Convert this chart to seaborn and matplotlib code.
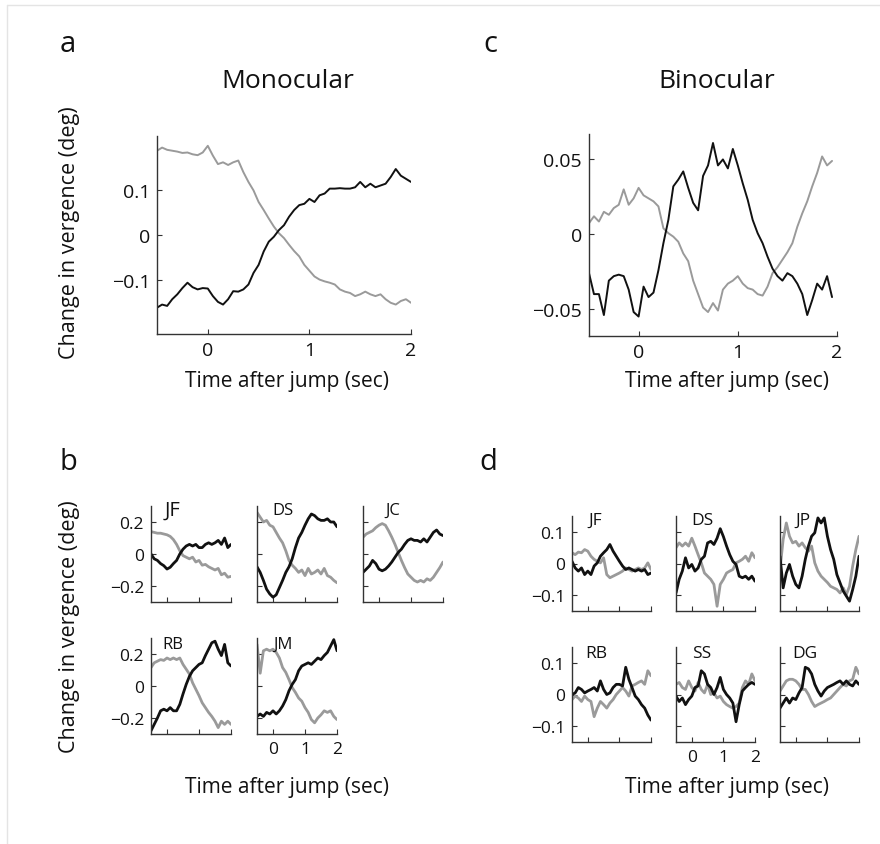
import seaborn as sns
import matplotlib.pyplot as plt
import numpy as np
from matplotlib.lines import Line2D

sns.set_style("ticks")
plt.rcParams['font.family'] = ['Open Sans', 'DejaVu Sans']

# ---------------- data ----------------
# panels a and c: 0.05 s steps
t_a = np.round(np.arange(-0.5, 2.0001, 0.05), 2)
mono_gray = [0.189, 0.196, 0.191, 0.189, 0.187, 0.184, 0.185, 0.181, 0.179, 0.185,
             0.200, 0.178, 0.159, 0.163, 0.157, 0.163, 0.167, 0.141, 0.119, 0.100,
             0.074, 0.056, 0.037, 0.019, 0.004, -0.007, -0.022, -0.036, -0.048, -0.067,
             -0.080, -0.093, -0.100, -0.104, -0.107, -0.111, -0.122, -0.127, -0.130, -0.137,
             -0.133, -0.127, -0.133, -0.137, -0.133, -0.144, -0.152, -0.156, -0.148, -0.144,
             -0.152]
mono_black = [-0.163, -0.156, -0.159, -0.144, -0.133, -0.119, -0.107, -0.117, -0.122, -0.119,
              -0.120, -0.137, -0.150, -0.156, -0.144, -0.126, -0.127, -0.122, -0.111, -0.085,
              -0.067, -0.037, -0.015, -0.004, 0.011, 0.022, 0.041, 0.056, 0.067, 0.070,
              0.081, 0.074, 0.089, 0.093, 0.104, 0.104, 0.105, 0.104, 0.104, 0.107,
              0.119, 0.107, 0.115, 0.107, 0.111, 0.115, 0.130, 0.148, 0.133, 0.126,
              0.119]

t_c = np.round(np.arange(-0.5, 1.9501, 0.05), 2)
bino_gray = [0.0074, 0.012, 0.0085, 0.015, 0.013, 0.0175, 0.0197, 0.030, 0.0197, 0.024,
             0.031, 0.026, 0.024, 0.022, 0.0186, 0.004, 0.0007, -0.0016, -0.005, -0.0128,
             -0.018, -0.031, -0.040, -0.049, -0.052, -0.046, -0.051, -0.037, -0.033, -0.031,
             -0.028, -0.033, -0.036, -0.037, -0.040, -0.041, -0.035, -0.026, -0.022, -0.017,
             -0.012, -0.006, 0.005, 0.014, 0.022, 0.032, 0.041, 0.052, 0.046, 0.049]
bino_black = [-0.026, -0.040, -0.040, -0.054, -0.031, -0.028, -0.027, -0.028, -0.037, -0.052,
              -0.055, -0.035, -0.042, -0.039, -0.024, -0.006, 0.0096, 0.032, 0.0365, 0.042,
              0.031, 0.021, 0.016, 0.039, 0.046, 0.061, 0.046, 0.050, 0.044, 0.057,
              0.046, 0.034, 0.023, 0.0096, 0.0007, -0.006, -0.015, -0.023, -0.028, -0.031,
              -0.026, -0.028, -0.033, -0.040, -0.054, -0.044, -0.033, -0.037, -0.028, -0.042]

# panels b and d: 0.1 s steps
t_s = np.round(np.arange(-0.5, 2.0001, 0.1), 2)

mono_subjects = ["JF", "DS", "JC", "RB", "JM"]
mono_sub_gray = {
    "JF": [0.14, 0.135, 0.13, 0.13, 0.125, 0.12, 0.11, 0.09, 0.06, 0.02, -0.01, -0.02, -0.03,
           -0.02, -0.05, -0.04, -0.07, -0.065, -0.08, -0.09, -0.10, -0.09, -0.13, -0.12, -0.145, -0.14],
    "DS": [0.26, 0.23, 0.20, 0.21, 0.18, 0.17, 0.135, 0.10, 0.07, 0.02, -0.04, -0.07, -0.09,
           -0.115, -0.10, -0.135, -0.09, -0.125, -0.115, -0.10, -0.125, -0.09, -0.135, -0.145, -0.165, -0.18],
    "JC": [0.105, 0.125, 0.135, 0.145, 0.165, 0.18, 0.19, 0.18, 0.145, 0.105, 0.06, 0.01, -0.04,
           -0.085, -0.125, -0.145, -0.165, -0.175, -0.165, -0.175, -0.155, -0.165, -0.145, -0.115, -0.085, -0.05],
    "RB": [0.115, 0.145, 0.155, 0.165, 0.16, 0.175, 0.165, 0.175, 0.165, 0.175, 0.135, 0.105, 0.075,
           0.02, -0.02, -0.06, -0.105, -0.135, -0.165, -0.19, -0.22, -0.26, -0.22, -0.24, -0.22, -0.24],
    "JM": [0.26, 0.08, 0.22, 0.23, 0.22, 0.23, 0.21, 0.175, 0.115, 0.085, 0.04, -0.01, -0.04,
           -0.075, -0.095, -0.135, -0.165, -0.21, -0.23, -0.20, -0.18, -0.155, -0.165, -0.155, -0.19, -0.21],
}
mono_sub_black = {
    "JF": [0.0, -0.03, -0.04, -0.06, -0.073, -0.094, -0.083, -0.06, -0.04, 0.0, 0.03, 0.05, 0.06,
           0.05, 0.06, 0.04, 0.04, 0.06, 0.07, 0.06, 0.07, 0.085, 0.06, 0.10, 0.04, 0.06],
    "DS": [-0.08, -0.115, -0.165, -0.22, -0.25, -0.27, -0.255, -0.21, -0.165, -0.115, -0.08, -0.03, 0.04,
           0.10, 0.135, 0.18, 0.22, 0.25, 0.24, 0.22, 0.21, 0.21, 0.22, 0.20, 0.20, 0.17],
    "JC": [-0.115, -0.095, -0.075, -0.04, -0.06, -0.095, -0.105, -0.095, -0.075, -0.05, -0.02, 0.01, 0.03,
           0.06, 0.085, 0.095, 0.085, 0.085, 0.075, 0.095, 0.075, 0.105, 0.135, 0.15, 0.125, 0.115],
    "RB": [-0.28, -0.24, -0.20, -0.155, -0.145, -0.155, -0.135, -0.155, -0.155, -0.115, -0.05, 0.01, 0.06,
           0.095, 0.115, 0.135, 0.145, 0.19, 0.23, 0.27, 0.28, 0.23, 0.19, 0.26, 0.145, 0.125],
    "JM": [-0.19, -0.175, -0.19, -0.165, -0.175, -0.155, -0.175, -0.155, -0.125, -0.085, -0.03, 0.01, 0.04,
           0.095, 0.125, 0.135, 0.145, 0.135, 0.155, 0.175, 0.165, 0.19, 0.21, 0.25, 0.29, 0.22],
}

bino_subjects = ["JF", "DS", "JP", "RB", "SS", "DG"]
bino_sub_gray = {
    "JF": [0.034, 0.028, 0.036, 0.034, 0.044, 0.039, 0.023, 0.013, 0.007, 0.002, 0.018, -0.035, -0.045,
           -0.04, -0.035, -0.03, -0.024, -0.014, -0.019, -0.024, -0.019, -0.014, -0.019, -0.014, 0.002, -0.019],
    "DS": [0.05, 0.065, 0.055, 0.065, 0.055, 0.08, 0.055, 0.028, 0.002, -0.03, -0.04, -0.05, -0.066,
           -0.135, -0.066, -0.05, -0.03, -0.024, -0.019, 0.002, 0.007, 0.013, 0.023, 0.007, 0.034, 0.018],
    "JP": [-0.019, 0.076, 0.128, 0.086, 0.065, 0.07, 0.055, 0.065, 0.05, 0.039, 0.055, 0.002, -0.024,
           -0.04, -0.05, -0.06, -0.072, -0.077, -0.082, -0.093, -0.077, -0.098, -0.072, -0.008, 0.044, 0.086],
    "RB": [-0.016, -0.005, -0.011, -0.022, -0.005, -0.016, -0.022, -0.07, -0.043, -0.022, -0.032, -0.043, -0.027,
           -0.016, 0.0, 0.011, 0.022, 0.011, -0.005, 0.027, 0.032, 0.038, 0.043, 0.032, 0.075, 0.059],
    "SS": [0.032, 0.038, 0.022, 0.016, 0.043, 0.022, 0.011, 0.038, 0.016, 0.005, 0.032, 0.0, 0.005,
           -0.011, -0.005, -0.022, -0.032, -0.038, -0.043, -0.038, -0.027, 0.022, 0.043, 0.032, 0.065, 0.043],
    "DG": [0.011, 0.027, 0.043, 0.048, 0.048, 0.043, 0.032, 0.016, 0.016, 0.0, -0.022, -0.038, -0.032,
           -0.027, -0.022, -0.016, -0.011, 0.0, 0.011, 0.022, 0.032, 0.027, 0.043, 0.048, 0.086, 0.065],
}
bino_sub_black = {
    "JF": [0.007, -0.014, -0.024, -0.014, -0.035, -0.024, -0.035, -0.008, 0.002, 0.023, 0.034, 0.044, 0.06,
           0.039, 0.023, 0.007, -0.008, -0.019, -0.014, -0.019, -0.024, -0.019, -0.024, -0.019, -0.035, -0.03],
    "DS": [-0.093, -0.05, -0.024, 0.018, -0.014, -0.003, -0.024, -0.014, 0.013, 0.023, 0.065, 0.07, 0.06,
           0.08, 0.11, 0.085, 0.055, 0.028, 0.007, -0.003, -0.04, -0.045, -0.04, -0.05, -0.04, -0.056],
    "JP": [0.023, -0.077, -0.03, -0.003, -0.04, -0.066, -0.077, -0.04, 0.013, 0.055, 0.086, 0.097, 0.144,
           0.128, 0.144, 0.086, 0.044, 0.013, -0.035, -0.061, -0.087, -0.103, -0.119, -0.082, -0.04, 0.023],
    "RB": [0.0, 0.005, 0.022, 0.016, 0.005, 0.011, 0.016, 0.022, 0.011, 0.043, 0.016, 0.0, 0.005,
           0.022, 0.032, 0.032, 0.027, 0.086, 0.048, 0.022, -0.005, -0.016, -0.032, -0.043, -0.065, -0.081],
    "SS": [-0.005, -0.022, -0.011, -0.032, -0.016, -0.005, 0.022, 0.027, 0.075, 0.065, 0.032, 0.022, 0.0,
           0.022, 0.054, 0.016, 0.0, -0.011, -0.027, -0.086, -0.032, 0.011, 0.022, 0.032, 0.038, 0.032],
    "DG": [-0.043, -0.027, -0.011, -0.027, -0.011, -0.016, 0.005, 0.022, 0.086, 0.081, 0.065, 0.032, 0.011,
           -0.005, 0.011, 0.022, 0.027, 0.032, 0.038, 0.043, 0.032, 0.043, 0.032, 0.027, 0.043, 0.032],
}

GRAY = "#9a9a9a"
BLACK = "#111111"
SPINE = "#333333"

W, H = 880, 845
fig = plt.figure(figsize=(W / 100, H / 100), dpi=100)


def px_axes(left, top, width, height):
    # axes placed by pixel box (y measured from the top)
    return fig.add_axes([left / W, 1 - (top + height) / H, width / W, height / H])


def style_axes(ax, ylim, yticks, yticklabels, show_y, show_x, fs):
    ax.set_xlim(-0.5, 2)
    ax.set_ylim(*ylim)
    ax.set_xticks([0, 1, 2])
    ax.set_yticks(yticks)
    ax.set_xticklabels(["0", "1", "2"] if show_x else [])
    ax.set_yticklabels(yticklabels if show_y else [])
    ax.set_xlabel("")
    ax.set_ylabel("")
    sns.despine(ax=ax)
    for s in ["left", "bottom"]:
        ax.spines[s].set_color(SPINE)
        ax.spines[s].set_linewidth(1.0)
    ax.tick_params(direction="in", length=3.5, width=0.8, color=SPINE,
                   labelsize=fs, pad=5, labelcolor="#111111")
    ax.patch.set_alpha(0)


def ftext(x, y, s, size, **kw):
    fig.text(x / W, 1 - y / H, s, fontsize=size, ha="center", va="center",
             color="#111111", **kw)


# ---------------- panel a ----------------
ax = px_axes(157, 137, 254, 198)
sns.lineplot(x=t_a, y=mono_gray, color=GRAY, linewidth=1.4, ax=ax)
sns.lineplot(x=t_a, y=mono_black, color=BLACK, linewidth=1.4, ax=ax)
style_axes(ax, (-0.222, 0.222), [-0.1, 0, 0.1], ["\u22120.1", "0", "0.1"], True, True, 14)

# ---------------- panel c ----------------
ax = px_axes(589, 135, 248, 202)
sns.lineplot(x=t_c, y=bino_gray, color=GRAY, linewidth=1.4, ax=ax)
sns.lineplot(x=t_c, y=bino_black, color=BLACK, linewidth=1.4, ax=ax)
style_axes(ax, (-0.068, 0.067), [-0.05, 0, 0.05], ["\u22120.05", "0", "0.05"], True, True, 14)

# ---------------- panel b ----------------
b_cols = [151, 257, 363]
b_rows = [507, 639]
b_label_pos = {"JF": (173, 511), "DS": (283, 511), "JC": (393, 511),
               "RB": (173, 645), "JM": (283, 645)}
for i, name in enumerate(mono_subjects):
    r, c = divmod(i, 3)
    ax = px_axes(b_cols[c], b_rows[r], 80, 96)
    sns.lineplot(x=t_s, y=mono_sub_gray[name], color=GRAY, linewidth=2.0, ax=ax)
    sns.lineplot(x=t_s, y=mono_sub_black[name], color=BLACK, linewidth=2.0, ax=ax)
    style_axes(ax, (-0.3, 0.3), [-0.2, 0, 0.2], ["\u22120.2", "0", "0.2"],
               c == 0, (r == 1 and c == 1), 12.5)
    lx, ly = b_label_pos[name]
    ftext(lx, ly, name, 14.5 if name == "JF" else 12)

# ---------------- panel d ----------------
d_cols = [572, 676, 780]
d_rows = [517, 648]
d_label_pos = {"JF": (595, 521), "DS": (702, 521), "JP": (803, 521),
               "RB": (596, 654), "SS": (702, 654), "DG": (805, 654)}
for i, name in enumerate(bino_subjects):
    r, c = divmod(i, 3)
    ax = px_axes(d_cols[c], d_rows[r], 79, 95)
    sns.lineplot(x=t_s, y=bino_sub_gray[name], color=GRAY, linewidth=2.0, ax=ax)
    sns.lineplot(x=t_s, y=bino_sub_black[name], color=BLACK, linewidth=2.0, ax=ax)
    style_axes(ax, (-0.15, 0.15), [-0.1, 0, 0.1], ["\u22120.1", "0", "0.1"],
               c == 0, (r == 1 and c == 1), 12.5)
    lx, ly = d_label_pos[name]
    ftext(lx, ly, name, 12.5)

# ---------------- figure text ----------------
ftext(68, 45, "a", 21)
ftext(490, 45, "c", 21)
ftext(68, 463, "b", 21)
ftext(488, 463, "d", 21)
ftext(288, 82, "Monocular", 19)
ftext(717, 82, "Binocular", 19)
ftext(70, 233, "Change in vergence (deg)", 15.5, rotation=90)
ftext(70, 627, "Change in vergence (deg)", 15.5, rotation=90)
ftext(287, 382, "Time after jump (sec)", 15)
ftext(727, 382, "Time after jump (sec)", 15)
ftext(287, 788, "Time after jump (sec)", 15)
ftext(727, 788, "Time after jump (sec)", 15)

# faint frame at the left and top edges
fig.add_artist(Line2D([7 / W, 7 / W], [0, 1 - 6 / H], color="#e4e4e4", linewidth=1,
                      transform=fig.transFigure))
fig.add_artist(Line2D([7 / W, 1], [1 - 6 / H, 1 - 6 / H], color="#e4e4e4", linewidth=1,
                      transform=fig.transFigure))

fig.savefig("out.png", dpi=100)
